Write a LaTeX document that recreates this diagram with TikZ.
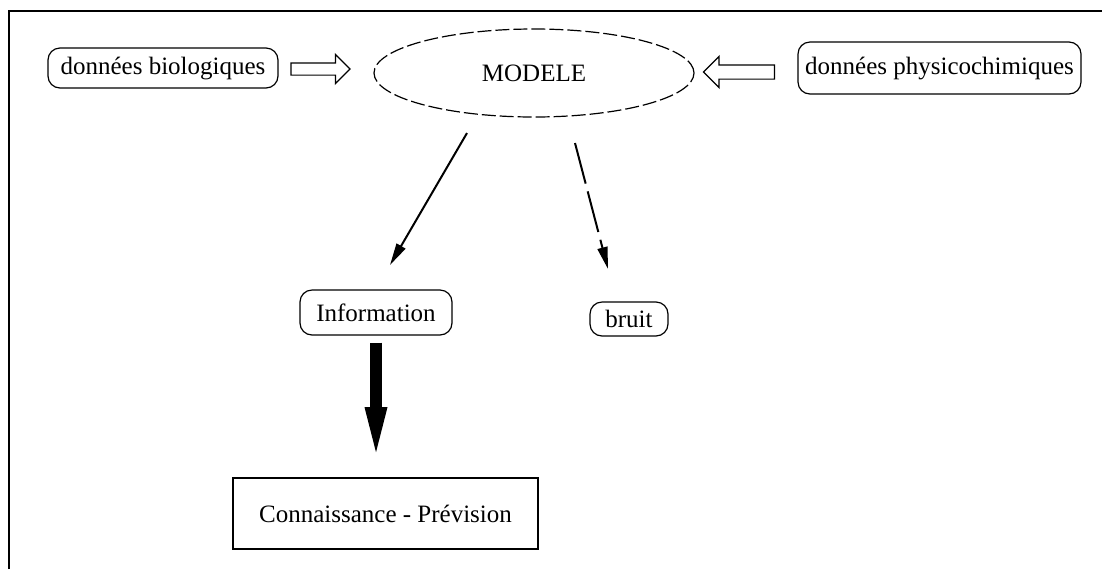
\documentclass[tikz,border=0pt]{standalone}
\usepackage{fontspec}
\setmainfont{Liberation Serif}
\usetikzlibrary{shapes.geometric}
\usetikzlibrary{shapes.arrows}
\usetikzlibrary{arrows.meta}

\begin{document}
\begin{tikzpicture}[x=0.5pt,y=-0.5pt,
  every node/.style={font=\fontsize{12.5}{15}\selectfont, inner sep=0pt},
  donnee/.style={draw, rounded corners=6pt, line width=0.6pt},
  fleche/.style={draw, single arrow, single arrow head extend=4.25pt, inner xsep=0pt, line width=0.6pt},
  lien/.style={line width=1pt, -{Triangle[length=11pt,width=5pt]}}]
  \useasboundingbox (0,0) rectangle (1102,569);
  \draw [line width=1pt] (9,569) -- (9,11) -- (1102,11);

  \node [donnee, minimum width=115pt, minimum height=20pt] (bio) at (163,68) {données biologiques};
  \node [donnee, minimum width=141.5pt, minimum height=26pt] (phys) at (939.5,68) {données physicochimiques};
  \node [ellipse, draw, line width=0.6pt, dash pattern=on 7pt off 2pt,
         minimum width=160pt, minimum height=44pt] (modele) at (534,73) {MODELE};
  \node [fleche, inner ysep=2.75pt, minimum height=29.5pt] (versmodele) at (317.5,69) {};
  \node [fleche, inner ysep=3.25pt, shape border rotate=180, minimum height=35.5pt] (depuisphys) at (742.5,72) {};

  \node [donnee, minimum width=76pt, minimum height=22.5pt] (info) at (376,312.5) {Information};
  \node [donnee, minimum width=39pt, minimum height=17pt] (bruit) at (629,319) {bruit};
  \node [draw, line width=0.8pt, minimum width=152.5pt, minimum height=35.5pt] (savoir) at (385.5,513.5) {Connaissance - Prévision};

  \coordinate (i1) at (467,133);
  \coordinate (i2) at (390,265);
  \draw [lien] (i1) -- (i2);
  \coordinate (b1) at (575,143);
  \coordinate (b2) at (608,269);
  \draw [lien, dash pattern=on 21pt off 4pt] (b1) -- (b2);

  \draw [line width=6pt, -{Triangle[length=22.5pt,width=11.5pt,line width=0pt]},
         shorten <=3.5pt, shorten >=12.5pt] (info.south) -- (info.south |- savoir.north);
\end{tikzpicture}
\end{document}
